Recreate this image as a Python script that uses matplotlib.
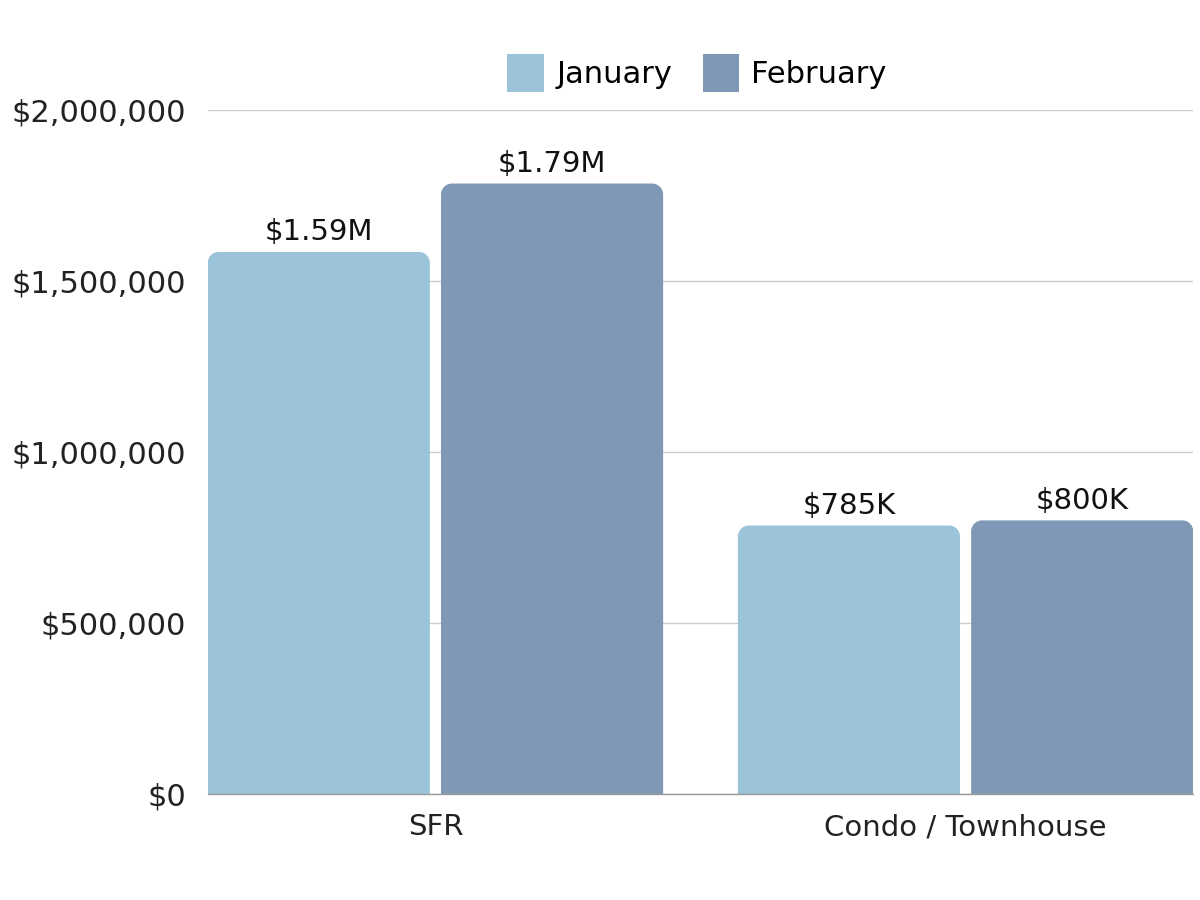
import matplotlib
matplotlib.use("Agg")
import matplotlib.pyplot as plt
from matplotlib.path import Path
from matplotlib.patches import PathPatch, Patch
from matplotlib.ticker import FuncFormatter

categories = ["SFR", "Condo / Townhouse"]
series_names = ["January", "February"]
january = [1585000, 785000]
february = [1785000, 800000]
label_jan = ["$1.59M", "$785K"]
label_feb = ["$1.79M", "$800K"]
colors = ["#9BC3D9", "#7F98B5"]
yticks = [0, 500000, 1000000, 1500000, 2000000]

plt.rcParams['font.family'] = ['DejaVu Sans']

fig = plt.figure(figsize=(12, 9), dpi=100)
ax = fig.add_axes([208/1200, 1 - 794/900, (1193-208)/1200, (794-110)/900])

xlim = (-0.429, 1.429)
ylim = (0, 2000000)
ax.set_xlim(*xlim)
ax.set_ylim(*ylim)

ax_w_px = (1193 - 208)
ax_h_px = (794 - 110)
radius_px = 11
rx = radius_px * (xlim[1] - xlim[0]) / ax_w_px
ry = radius_px * (ylim[1] - ylim[0]) / ax_h_px

width = 0.419
offsets = [-0.22, 0.22]
k = 0.5523

def rounded_bar(xc, h, color):
    x0, x1 = xc - width/2, xc + width/2
    verts = [
        (x0, 0), (x0, h - ry),
        (x0, h - ry + k*ry), (x0 + rx - k*rx, h), (x0 + rx, h),
        (x1 - rx, h),
        (x1 - rx + k*rx, h), (x1, h - ry + k*ry), (x1, h - ry),
        (x1, 0), (x0, 0)
    ]
    codes = [Path.MOVETO, Path.LINETO,
             Path.CURVE4, Path.CURVE4, Path.CURVE4,
             Path.LINETO,
             Path.CURVE4, Path.CURVE4, Path.CURVE4,
             Path.LINETO, Path.CLOSEPOLY]
    ax.add_patch(PathPatch(Path(verts, codes), facecolor=color, edgecolor='none', zorder=3))

for si, (vals, labs) in enumerate([(january, label_jan), (february, label_feb)]):
    for ci, v in enumerate(vals):
        xc = ci + offsets[si]
        rounded_bar(xc, v, colors[si])
        ax.annotate(labs[ci], (xc, v), xytext=(0, 4), textcoords='offset points',
                    ha='center', va='bottom', fontsize=21, color='#111111', zorder=4)

ax.set_yticks(yticks)
ax.yaxis.set_major_formatter(FuncFormatter(lambda v, p: "${:,.0f}".format(v)))
ax.set_xticks([0, 1])
ax.set_xticklabels(categories)
ax.tick_params(axis='y', length=0, pad=16, labelsize=22, labelcolor='#222222')
ax.tick_params(axis='x', length=0, pad=14, labelsize=21, labelcolor='#222222')
ax.grid(axis='y', color='#CCCCCC', linewidth=1, zorder=0)
ax.set_axisbelow(True)
for s in ['top', 'right', 'left']:
    ax.spines[s].set_visible(False)
ax.spines['bottom'].set_color('#999999')
ax.spines['bottom'].set_linewidth(1)
ax.spines['bottom'].set_zorder(5)

handles = [Patch(facecolor=c, edgecolor='none') for c in colors]
fig.legend(handles, series_names, loc='center', bbox_to_anchor=(697/1200, 1 - 73/900),
           ncol=2, frameon=False, fontsize=22, handlelength=1.2, handleheight=1.55,
           handletextpad=0.4, columnspacing=1.0)

fig.savefig("out.png", dpi=100)
